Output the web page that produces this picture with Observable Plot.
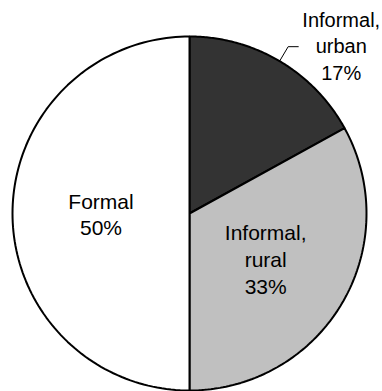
<!DOCTYPE html>
<html>
<head>
<meta charset="utf-8">
<script src="https://cdn.jsdelivr.net/npm/d3@7"></script>
<script src="https://cdn.jsdelivr.net/npm/@observablehq/plot@0.6"></script>
<style>
  html, body { margin: 0; padding: 0; background: #ffffff; }
  #chart { width: 382px; height: 391px; }
</style>
</head>
<body>
<div id="chart"></div>
<script>
// Slices, in clockwise order from twelve o'clock
const categories = ["Informal, urban", "Informal, rural", "Formal"];
const labelNames = ["Informal,\nurban", "Informal,\nrural", "Formal"];
const shares = [17, 33, 50];
const fills = ["#333333", "#c0c0c0", "#ffffff"];

// Angles for each slice (radians, clockwise from the top)
const arcs = d3.pie().sort(null).value(d => d)(shares);

// Polar helpers on a unit circle: x = sin(a), y = cos(a)
const px = (a, r) => r * Math.sin(a);
const py = (a, r) => r * Math.cos(a);

// Slice outlines: centre, points along the arc, back to centre
const slicePoints = [];
arcs.forEach((arc, i) => {
  const n = 120;
  slicePoints.push({category: categories[i], x: 0, y: 0});
  for (let k = 0; k <= n; ++k) {
    const a = arc.startAngle + (arc.endAngle - arc.startAngle) * k / n;
    slicePoints.push({category: categories[i], x: px(a, 1), y: py(a, 1)});
  }
});

const mid = arcs.map(a => (a.startAngle + a.endAngle) / 2);

// Inside labels sit halfway out along the slice's middle angle
const insideLabels = [1, 2].map(i => ({
  text: `${labelNames[i]}\n${shares[i]}%`,
  x: px(mid[i], 0.5),
  y: py(mid[i], 0.5)
}));

// The small urban slice gets an outside label with an elbow leader
const elbowR = 1.095;
const leader = [
  {x: px(mid[0], 1), y: py(mid[0], 1)},
  {x: px(mid[0], elbowR), y: py(mid[0], elbowR)},
  {x: px(mid[0], elbowR) + 0.057, y: py(mid[0], elbowR)}
];
const outsideLabel = [{
  text: `${labelNames[0]}\n${shares[0]}%`,
  x: leader[2].x,
  y: leader[2].y
}];

const chart = Plot.plot({
  width: 382,
  height: 391,
  marginLeft: 12,
  marginRight: 16,
  marginTop: 36,
  marginBottom: 1,
  x: {domain: [-1, 1], axis: null},
  y: {domain: [-1, 1], axis: null},
  color: {domain: categories, range: fills},
  style: {fontFamily: "'Liberation Sans', Arial, sans-serif", background: "#ffffff", overflow: "visible"},
  marks: [
    Plot.line(slicePoints, {
      x: "x", y: "y", z: "category", fill: "category",
      stroke: "#000000", strokeWidth: 2, strokeLinejoin: "miter",
      curve: "linear-closed"
    }),
    Plot.line(leader, {x: "x", y: "y", stroke: "#000000", strokeWidth: 1}),
    Plot.text(insideLabels, {
      x: "x", y: "y", text: "text",
      fontSize: 21, lineHeight: 1.27, fill: "#000000"
    }),
    Plot.text(outsideLabel, {
      x: "x", y: "y", text: "text",
      dx: 43, dy: -2,
      fontSize: 20, lineHeight: 1.32, fill: "#000000"
    })
  ]
});

document.getElementById("chart").appendChild(chart);
</script>
</body>
</html>
